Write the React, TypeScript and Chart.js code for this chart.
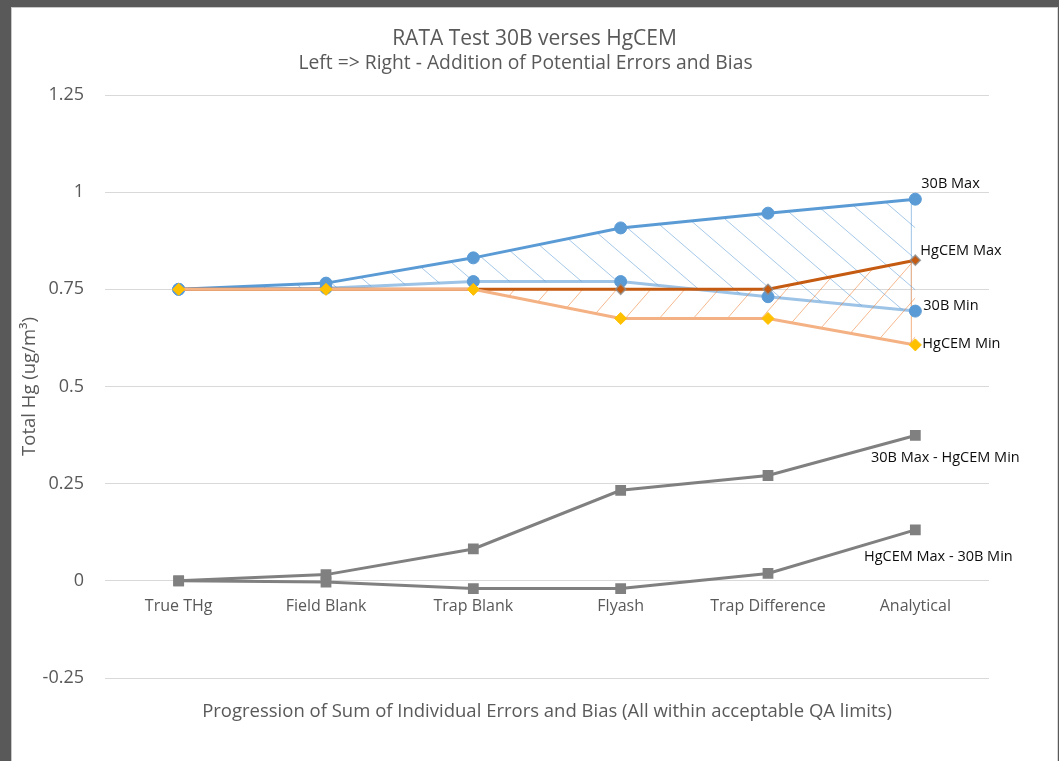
import React, { useEffect, useRef } from "react";
import { Chart, registerables } from "chart.js";

Chart.register(...registerables);

const categories = ["True THg", "Field Blank", "Trap Blank", "Flyash", "Trap Difference", "Analytical"];
const max30B = [0.75, 0.766, 0.831, 0.908, 0.946, 0.982];
const min30B = [0.75, 0.753, 0.77, 0.77, 0.731, 0.694];
const maxHgCEM = [0.75, 0.75, 0.75, 0.75, 0.75, 0.825];
const minHgCEM = [0.75, 0.75, 0.75, 0.675, 0.675, 0.607];
const diffMax30BMinHgCEM = [0, 0.016, 0.082, 0.233, 0.271, 0.374];
const diffMaxHgCEMMin30B = [0, -0.003, -0.02, -0.02, 0.019, 0.131];
const seriesNames = ["30B Max", "30B Min", "HgCEM Max", "HgCEM Min", "30B Max - HgCEM Min", "HgCEM Max - 30B Min"];
const titleText = "RATA Test 30B verses HgCEM";
const subtitleText = "Left => Right - Addition of Potential Errors and Bias";
const xTitleText = "Progression of Sum of Individual Errors and Bias (All within acceptable QA limits)";
const yTitleText = "Total Hg (ug/m\u00B3)";

const FONT = '"Open Sans", "DejaVu Sans", sans-serif';

function hatch(color: string, w: number, h: number, dir: "down" | "up") {
  const c = document.createElement("canvas");
  c.width = w;
  c.height = h;
  const g = c.getContext("2d")!;
  g.strokeStyle = color;
  g.lineWidth = 1;
  for (const off of [-w, 0, w]) {
    g.beginPath();
    if (dir === "down") {
      g.moveTo(off, 0);
      g.lineTo(off + w, h);
    } else {
      g.moveTo(off, h);
      g.lineTo(off + w, 0);
    }
    g.stroke();
  }
  return g.createPattern(c, "repeat")!;
}

const labelSpecs = [
  { ds: 0, dx: 6, dy: -15, align: "left" },
  { ds: 2, dx: 5, dy: -9, align: "left" },
  { ds: 1, dx: 8, dy: -5, align: "left" },
  { ds: 3, dx: 7, dy: -1, align: "left" },
  { ds: 4, dx: 30, dy: 22, align: "center" },
  { ds: 5, dx: 23, dy: 27, align: "center" },
];

const endLabels = {
  id: "endLabels",
  afterDatasetsDraw(chart: any) {
    const ctx = chart.ctx;
    ctx.save();
    ctx.font = `14.5px ${FONT}`;
    ctx.fillStyle = "#0d0d0d";
    ctx.textBaseline = "middle";
    for (const s of labelSpecs) {
      const meta = chart.getDatasetMeta(s.ds);
      const p = meta.data[meta.data.length - 1];
      ctx.textAlign = s.align;
      ctx.fillText(seriesNames[s.ds], p.x + s.dx, p.y + s.dy);
    }
    ctx.restore();
  },
};

const edgeLines = {
  id: "edgeLines",
  beforeDatasetsDraw(chart: any) {
    const ctx = chart.ctx;
    const y = chart.scales.y;
    const x = chart.scales.x.getPixelForValue(categories.length - 1) - 4;
    const last = categories.length - 1;
    ctx.save();
    ctx.lineWidth = 1;
    ctx.strokeStyle = "#9DC3E6";
    ctx.beginPath();
    ctx.moveTo(x, y.getPixelForValue(max30B[last]));
    ctx.lineTo(x, y.getPixelForValue(min30B[last]));
    ctx.stroke();
    ctx.strokeStyle = "#F4B183";
    ctx.beginPath();
    ctx.moveTo(x, y.getPixelForValue(maxHgCEM[last]));
    ctx.lineTo(x, y.getPixelForValue(minHgCEM[last]));
    ctx.stroke();
    ctx.restore();
  },
};

const extraTexts = {
  id: "extraTexts",
  afterDraw(chart: any) {
    const ctx = chart.ctx;
    const a = chart.chartArea;
    ctx.save();
    ctx.fillStyle = "#595959";
    ctx.textAlign = "center";
    ctx.textBaseline = "middle";
    ctx.font = `18.5px ${FONT}`;
    ctx.fillText(xTitleText, (a.left + a.right) / 2, 704);
    ctx.font = `19.3px ${FONT}`;
    ctx.fillText(subtitleText, chart.width / 2 - 9, 56);
    ctx.restore();
  },
};

export default function App() {
  const ref = useRef<HTMLCanvasElement>(null);
  useEffect(() => {
    document.body.style.margin = "0";
    const blueHatch = hatch("rgba(91,155,213,0.55)", 36, 31, "down");
    const orangeHatch = hatch("rgba(237,125,49,0.55)", 34, 39, "up");
    const chart = new Chart(ref.current!, {
      type: "line",
      data: {
        labels: categories,
        datasets: [
          {
            label: seriesNames[0],
            data: max30B,
            borderColor: "#5B9BD5",
            backgroundColor: blueHatch,
            fill: "+1",
            borderWidth: 3,
            pointStyle: "circle",
            pointRadius: 6,
            pointBackgroundColor: "#5B9BD5",
            pointBorderColor: "#5B9BD5",
            pointBorderWidth: 1,
            order: 2,
          },
          {
            label: seriesNames[1],
            data: min30B,
            borderColor: "#9DC3E6",
            fill: false,
            borderWidth: 3,
            pointStyle: "circle",
            pointRadius: 6,
            pointBackgroundColor: "#5B9BD5",
            pointBorderColor: "#5B9BD5",
            pointBorderWidth: 1,
            order: 3,
          },
          {
            label: seriesNames[2],
            data: maxHgCEM,
            borderColor: "#C55A11",
            backgroundColor: orangeHatch,
            fill: "+1",
            borderWidth: 3,
            pointStyle: "rectRot",
            pointRadius: 5,
            pointBackgroundColor: "#C55A11",
            pointBorderColor: "rgba(140,140,140,0.8)",
            pointBorderWidth: 1.5,
            order: 1,
          },
          {
            label: seriesNames[3],
            data: minHgCEM,
            borderColor: "#F4B183",
            fill: false,
            borderWidth: 3,
            pointStyle: "rectRot",
            pointRadius: 6,
            pointBackgroundColor: "#FFC000",
            pointBorderColor: "#FFC000",
            pointBorderWidth: 1,
            order: 0,
          },
          {
            label: seriesNames[4],
            data: diffMax30BMinHgCEM,
            borderColor: "#808080",
            fill: false,
            borderWidth: 3,
            pointStyle: "rect",
            pointRadius: 5.5,
            pointBackgroundColor: "#808080",
            pointBorderColor: "#808080",
            order: 4,
          },
          {
            label: seriesNames[5],
            data: diffMaxHgCEMMin30B,
            borderColor: "#808080",
            fill: false,
            borderWidth: 3,
            pointStyle: "rect",
            pointRadius: 5.5,
            pointBackgroundColor: "#808080",
            pointBorderColor: "#808080",
            order: 5,
          },
        ],
      },
      options: {
        animation: false,
        responsive: false,
        maintainAspectRatio: false,
        layout: { padding: { left: 0, right: 0, top: 0, bottom: 83 } },
        elements: { line: { tension: 0 } },
        plugins: {
          legend: { display: false },
          tooltip: { enabled: false },
          title: {
            display: true,
            text: titleText,
            color: "#595959",
            font: { family: FONT, size: 21, weight: "normal" },
            padding: { top: 18.4, bottom: 43.4 },
          },
        },
        scales: {
          x: {
            type: "category",
            position: { y: 0 } as any,
            offset: true,
            grid: { display: false, drawTicks: false },
            border: { display: false },
            ticks: {
              color: "#595959",
              font: { family: FONT, size: 16 },
              padding: 16.4,
              maxRotation: 0,
              autoSkip: false,
            },
          },
          y: {
            min: -0.25,
            max: 1.25,
            grid: { color: "#D9D9D9", lineWidth: 1, drawTicks: false },
            border: { display: false },
            afterFit: (s: any) => {
              s.width = 93;
            },
            ticks: {
              stepSize: 0.25,
              color: "#595959",
              font: { family: FONT, size: 18 },
              padding: 21,
              callback: (v: any) => `${+Number(v).toFixed(2)}`,
            },
            title: {
              display: true,
              text: yTitleText,
              color: "#595959",
              font: { family: FONT, size: 18.5 },
              padding: { top: 6.6, bottom: 0 },
            },
          },
          yRightSpace: {
            type: "linear",
            position: "right",
            display: true,
            grid: { display: false, drawTicks: false },
            border: { display: false },
            ticks: { display: false },
            afterFit: (s: any) => {
              s.width = 68;
            },
          },
        },
      },
      plugins: [endLabels, edgeLines, extraTexts],
    });
    return () => chart.destroy();
  }, []);

  return (
    <div style={{ position: "fixed", left: 0, top: 0, width: 1059, height: 761, background: "#595959", overflow: "hidden" }}>
      <div
        style={{
          position: "absolute",
          left: 11,
          top: 7,
          width: 1047,
          height: 754,
          boxSizing: "border-box",
          background: "#ffffff",
          borderLeft: "1px solid #c8c8c8",
          borderTop: "1px solid #c8c8c8",
          borderRight: "1px solid #d9d9d9",
        }}
      >
        <canvas ref={ref} width={1045} height={753} style={{ display: "block", width: 1045, height: 753 }} />
      </div>
    </div>
  );
}
